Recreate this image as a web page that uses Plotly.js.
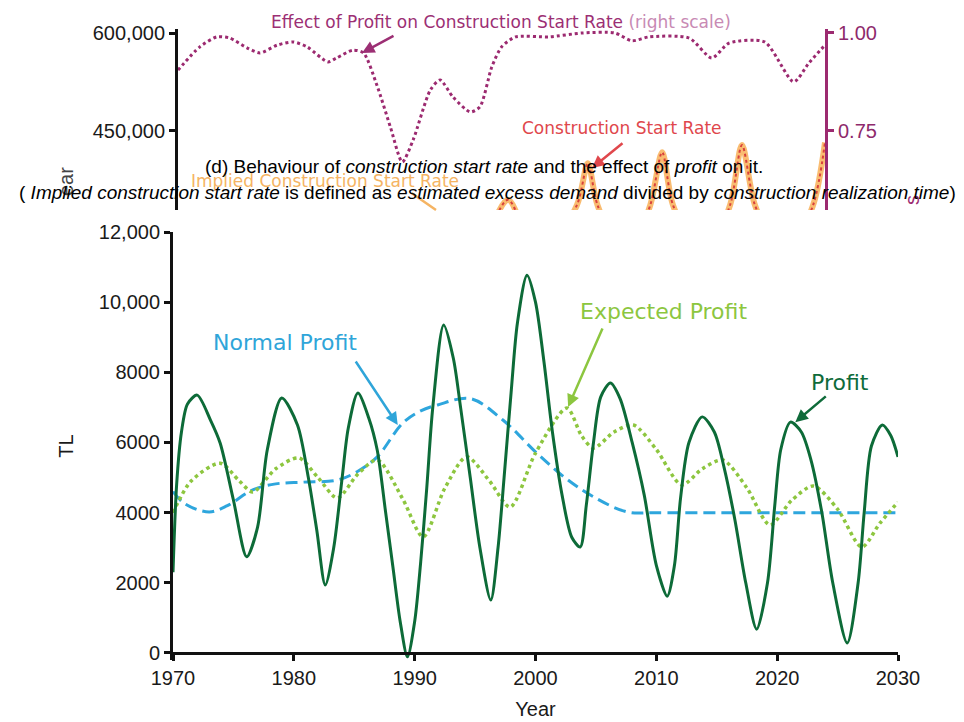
<!DOCTYPE html>
<html><head><meta charset="utf-8">
<script src="https://cdn.plot.ly/plotly-3.0.1.min.js"></script>
<style>html,body{margin:0;padding:0;background:#fff;}#chart{width:964px;height:722px;}</style>
</head><body><div id="chart"></div>
<script>
// ---- main chart data (TL) ----
const profitYears = [1970.0,1970.3,1970.7,1971.2,1972.0,1973.1,1973.9,1975.0,1976.1,1977.0,1977.8,1979.0,1980.3,1981.2,1981.9,1982.6,1983.3,1984.0,1984.5,1985.3,1986.2,1986.9,1987.6,1988.2,1988.8,1989.4,1990.0,1990.5,1991.0,1991.5,1992.4,1993.2,1993.8,1994.6,1995.4,1996.3,1996.9,1997.4,1998.0,1998.5,1999.3,2000.0,2000.7,2001.4,2002.2,2003.0,2003.7,2004.2,2004.8,2005.4,2006.2,2007.0,2008.0,2009.0,2010.0,2010.9,2011.5,2012.0,2012.7,2013.8,2014.8,2015.6,2016.5,2017.4,2018.3,2019.2,2019.8,2020.3,2021.1,2022.0,2022.8,2023.7,2024.6,2025.8,2026.7,2027.2,2027.8,2028.7,2029.4,2030.0];
const profit = [2300,4800,6300,7100,7350,6640,5985,4360,2740,3590,5785,7270,6500,5000,3500,1940,3000,5000,6400,7410,6700,5785,4000,2450,900,-110,900,2600,4700,7000,9350,8400,7000,5000,3000,1510,3000,5000,7500,9400,10770,10000,8300,6300,4500,3300,3020,4200,6000,7300,7695,7250,6000,4500,2500,1620,2500,4400,6000,6730,6300,5300,3800,2000,680,2000,4200,5800,6580,6300,5500,4000,2000,285,2000,4000,5900,6500,6200,5590];

const normalYears = [1970,1971,1973.0,1974.5,1976.6,1978.5,1980.8,1983.6,1985.2,1986.9,1989.0,1990.5,1991.9,1994.6,1997.3,2000.1,2002.5,2004.8,2007.6,2010,2020,2030];
const normalProfit = [4600,4250,4020,4200,4650,4820,4870,4930,5160,5590,6550,6900,7070,7250,6640,5700,4980,4450,4020,4000,4000,4000];

const expectedYears = [1970,1971.5,1973.9,1975.5,1976.6,1978.5,1980.4,1982,1983.6,1985.3,1986.9,1989,1990.7,1992.5,1994.3,1996.2,1997.9,2000,2002.6,2003.8,2004.8,2006.5,2008.1,2010,2012.1,2013.8,2015.5,2017.5,2019.4,2021.2,2023,2025,2027,2028.5,2030];
const expectedProfit = [4000,4900,5410,4900,4590,5250,5560,5000,4420,5100,5500,4400,3310,4700,5590,4900,4160,5700,6980,6200,5840,6300,6500,5800,4790,5250,5500,4700,3650,4350,4760,4100,3020,3700,4300];

const mainTickVals = [0,2000,4000,6000,8000,10000,12000];
const mainTickText = ['0','2000','4000','6000','8000','10,000','12,000'];
const yearTicks = [1970,1980,1990,2000,2010,2020,2030];

// ---- upper (cropped) panel data ----
const effectYears = [1970.0,1972.0,1973.6,1974.8,1976.4,1977.6,1979.2,1980.7,1982.0,1983.9,1984.7,1986.2,1987.2,1988.5,1989.7,1990.8,1991.8,1993.4,1994.3,1995.5,1997.1,1998.0,1999.1,2000.0,2001.3,2004.4,2007.5,2010.5,2012.1,2013.7,2017.4,2019.5,2021.1,2024.4,2027.1,2028.5,2030.0];
const effectOfProfit = [0.905,0.964,0.990,0.987,0.962,0.949,0.969,0.977,0.964,0.926,0.936,0.956,0.949,0.862,0.759,0.670,0.726,0.854,0.880,0.836,0.798,0.811,0.913,0.964,0.990,0.990,1.000,1.000,0.980,0.990,0.987,0.936,0.974,0.977,0.875,0.923,0.969];

const startYears = [1998.0,2000.6,2003.5,2007.0,2008.0,2008.9,2011.5,2013.8,2014.9,2015.9,2018.7,2021.2,2022.3,2023.5,2026.2,2028.9,2030.0];
const constructionStartRate = [250000,344000,250000,336000,400000,336000,250000,336000,417000,336000,250000,336000,428000,336000,250000,336000,432000];
const impliedStartRate = [250000,344000,250000,336000,400000,336000,250000,336000,417000,336000,250000,336000,428000,336000,250000,336000,432000];

const upperLeftTicks = [300000,450000,600000];
const upperLeftText = ['300,000','450,000','600,000'];
const upperRightTicks = [0.5,0.75,1.0];
const upperRightText = ['0.50','0.75','1.00'];

const W = 964, H = 722;
const px = v => v / W, py = v => 1 - v / H;

const traces = [
  {x: startYears, y: impliedStartRate, xaxis:'x2', yaxis:'y2', mode:'lines', line:{color:'rgba(248,176,88,0.85)', width:6, shape:'spline', smoothing:0.8}, hoverinfo:'skip', name:'Implied Construction Start Rate'},
  {x: startYears, y: constructionStartRate, xaxis:'x2', yaxis:'y2', mode:'lines', line:{color:'#d8403c', width:2, dash:'dot', shape:'spline', smoothing:0.8}, name:'Construction Start Rate'},
  {x: effectYears, y: effectOfProfit, xaxis:'x2', yaxis:'y3', mode:'lines', line:{color:'#9c2a70', width:3, dash:'dot', shape:'spline', smoothing:0.7}, name:'Effect of Profit on Construction Start Rate'},
  {x: normalYears, y: normalProfit, mode:'lines', line:{color:'#2ea6dd', width:3, dash:'12px,6px', shape:'spline', smoothing:1}, name:'Normal Profit'},
  {x: expectedYears, y: expectedProfit, mode:'lines', line:{color:'#8dc63f', width:3.5, dash:'dot', shape:'spline', smoothing:0.8}, name:'Expected Profit'},
  {x: profitYears, y: profit, mode:'lines', line:{color:'#0d6b38', width:3, shape:'spline', smoothing:0.8}, name:'Profit'}
];

const tickFont = {family:'Liberation Sans, Arial, sans-serif', size:20, color:'#1a1a1a'};
const annFont = (c, s) => ({family:'DejaVu Sans, sans-serif', size:s, color:c});
const capFont = {family:'Liberation Sans, Arial, sans-serif', size:19, color:'#000'};
const C = {xanchor:'center', yanchor:'middle'};

const layout = {
  width: W, height: H,
  margin:{l:0,r:0,t:0,b:0},
  paper_bgcolor:'#fff', plot_bgcolor:'rgba(0,0,0,0)',
  showlegend:false,
  xaxis:{domain:[px(173),px(898)], range:[1970,2030], anchor:'free', position:py(653),
    tickvals:yearTicks, ticks:'outside', ticklen:6, tickwidth:3, tickcolor:'#111',
    showline:true, linecolor:'#111', linewidth:3, showgrid:false, zeroline:false,
    tickfont:tickFont,
    title:{text:'Year', font:{family:'Liberation Sans, Arial, sans-serif', size:20, color:'#1a1a1a'}, standoff:13}},
  yaxis:{domain:[py(660),py(232)], range:[-200,12000], anchor:'x',
    tickvals:mainTickVals, ticktext:mainTickText, ticks:'outside', ticklen:6, tickwidth:3, tickcolor:'#111',
    showline:true, linecolor:'#111', linewidth:3, showgrid:false, zeroline:false,
    tickfont:tickFont,
    title:{text:'TL', font:{family:'Liberation Sans, Arial, sans-serif', size:20, color:'#1a1a1a'}, standoff:20}},
  xaxis2:{domain:[px(178),px(825)], range:[1970,2030], anchor:'y2', visible:false},
  yaxis2:{domain:[py(210),py(29)], range:[328250,606141], anchor:'x2',
    tickvals:upperLeftTicks, ticktext:upperLeftText, ticks:'outside', ticklen:6, tickwidth:3, tickcolor:'#111',
    showline:true, linecolor:'#111', linewidth:3, showgrid:false, zeroline:false, tickfont:tickFont},
  yaxis3:{overlaying:'y2', side:'right', anchor:'x2', range:[0.547,1.0102],
    tickvals:upperRightTicks, ticktext:upperRightText, ticks:'outside', ticklen:6, tickwidth:3, tickcolor:'#9c2a70',
    showline:true, linecolor:'#9c2a70', linewidth:3, showgrid:false, zeroline:false,
    tickfont:{family:'Liberation Sans, Arial, sans-serif', size:20, color:'#8e2a6c'}},
  annotations:[
    // upper panel labels
    Object.assign({xref:'paper', yref:'paper', x:px(501), y:py(22), showarrow:false,
     text:'Effect of Profit on Construction Start Rate <span style="color:#c88ab4">(right scale)</span>', font:annFont('#9c2f74',17)}, C),
    {xref:'paper', yref:'paper', x:px(362), y:py(53), ax:33, ay:-18, text:'', showarrow:true, arrowhead:2, arrowsize:1, arrowwidth:2.5, arrowcolor:'#9c2f74'},
    Object.assign({xref:'paper', yref:'paper', x:px(622), y:py(128), showarrow:false, text:'Construction Start Rate', font:annFont('#e0474c',17)}, C),
    {xref:'paper', yref:'paper', x:px(592), y:py(168), ax:32, ay:-26, text:'', showarrow:true, arrowhead:2, arrowsize:1, arrowwidth:2.5, arrowcolor:'#e0474c'},
    Object.assign({xref:'paper', yref:'paper', x:px(325), y:py(181), showarrow:false, text:'Implied Construction Start Rate', font:annFont('#f5b463',17)}, C),
    {xref:'paper', yref:'paper', x:px(436), y:py(210), ax:-26, ay:-18, text:'', showarrow:true, arrowhead:0, arrowwidth:2.5, arrowcolor:'#f5b463'},
    Object.assign({xref:'paper', yref:'paper', x:px(66), y:py(182), showarrow:false, textangle:-90, text:'ear', font:{family:'Liberation Sans, Arial, sans-serif', size:20, color:'#444'}}, C),
    Object.assign({xref:'paper', yref:'paper', x:px(912), y:py(200), showarrow:false, textangle:-90, text:'s', font:{family:'Liberation Sans, Arial, sans-serif', size:20, color:'#9c2a70'}}, C),
    // caption
    Object.assign({xref:'paper', yref:'paper', x:px(484), y:py(166), showarrow:false,
     text:'(d) Behaviour of <i>construction start rate</i> and the effect of <i>profit</i> on it.', font:capFont}, C),
    Object.assign({xref:'paper', yref:'paper', x:px(487), y:py(192), showarrow:false,
     text:'( <i>Implied construction start rate</i> is defined as <i>estimated excess demand</i> divided by <i>construction realization time</i>)', font:capFont}, C),
    // main chart labels
    Object.assign({xref:'x', yref:'y', x:1979.3, y:8860, showarrow:false, text:'Normal Profit', font:annFont('#2fa5d9',22)}, C),
    {xref:'x', yref:'y', x:1988.6, y:6500, ax:-43, ay:-65, text:'', showarrow:true, arrowhead:2, arrowsize:1, arrowwidth:2.5, arrowcolor:'#2fa5d9'},
    Object.assign({xref:'x', yref:'y', x:2010.6, y:9720, showarrow:false, text:'Expected Profit', font:annFont('#8cc63f',22)}, C),
    {xref:'x', yref:'y', x:2002.7, y:7010, ax:35, ay:-80, text:'', showarrow:true, arrowhead:2, arrowsize:1, arrowwidth:2.5, arrowcolor:'#8cc63f'},
    Object.assign({xref:'x', yref:'y', x:2025.2, y:7720, showarrow:false, text:'Profit', font:annFont('#0f6b3a',22)}, C),
    {xref:'x', yref:'y', x:2021.5, y:6580, ax:32, ay:-27, text:'', showarrow:true, arrowhead:2, arrowsize:1, arrowwidth:2.5, arrowcolor:'#0f6b3a'}
  ]
};

Plotly.newPlot('chart', traces, layout, {displayModeBar:false, staticPlot:true});
</script></body></html>
